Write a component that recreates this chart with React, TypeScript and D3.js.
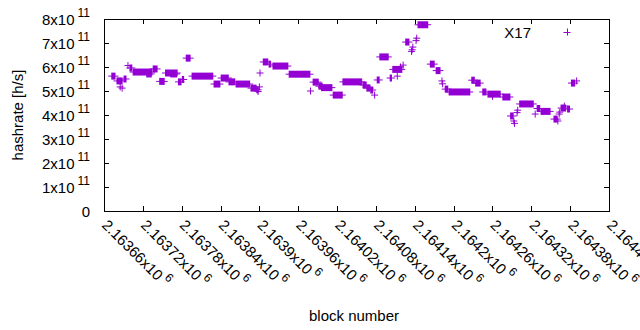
import React, { useEffect } from "react";
import * as d3 from "d3";

// Runs of blocks sharing the same hashrate (single blocks have from == to)
const blockFrom = [
  2163672, 2163680, 2163685, 2163688, 2163691, 2163697, 2163700, 2163705, 2163726, 2163736,
  2163746, 2163755, 2163763, 2163775, 2163781, 2163787, 2163796, 2163830, 2163841, 2163853,
  2163864, 2163887, 2163896, 2163898, 2163900, 2163901, 2163906, 2163915, 2163921, 2163946,
  2163979, 2163983, 2163992, 2163996, 2164014, 2164029, 2164060, 2164066, 2164072, 2164078,
  2164082, 2164086, 2164102, 2164106, 2164113, 2164118, 2164122, 2164126, 2164135, 2164136,
  2164137, 2164142, 2164143, 2164145, 2164164, 2164173, 2164182, 2164183, 2164187, 2164193,
  2164228, 2164234, 2164245, 2164253, 2164260, 2164276, 2164288, 2164293, 2164294, 2164298,
  2164299, 2164302, 2164326, 2164329, 2164335, 2164355, 2164361, 2164363, 2164364, 2164366,
  2164371, 2164376, 2164382, 2164390,
];
const blockTo = [
  2163677, 2163688, 2163685, 2163688, 2163694, 2163697, 2163703, 2163734, 2163733, 2163742,
  2163753, 2163773, 2163772, 2163779, 2163783, 2163793, 2163828, 2163839, 2163852, 2163862,
  2163885, 2163895, 2163898, 2163898, 2163900, 2163901, 2163913, 2163917, 2163944, 2163978,
  2163979, 2163991, 2163997, 2164012, 2164028, 2164058, 2164065, 2164071, 2164075, 2164078,
  2164085, 2164099, 2164104, 2164120, 2164113, 2164118, 2164122, 2164131, 2164135, 2164136,
  2164137, 2164142, 2164143, 2164160, 2164170, 2164179, 2164182, 2164183, 2164191, 2164225,
  2164232, 2164241, 2164250, 2164272, 2164260, 2164287, 2164292, 2164293, 2164294, 2164298,
  2164299, 2164323, 2164326, 2164333, 2164349, 2164360, 2164361, 2164363, 2164364, 2164373,
  2164371, 2164379, 2164387, 2164390,
];
const hashrate = [
  5.62e11, 5.42e11, 5.17e11, 5.12e11, 5.5e11, 6.06e11, 5.96e11, 5.79e11, 5.71e11, 5.92e11,
  5.4e11, 5.75e11, 5.71e11, 5.38e11, 5.48e11, 6.37e11, 5.62e11, 5.29e11, 5.54e11, 5.38e11,
  5.29e11, 5.12e11, 5.05e11, 4.98e11, 5.17e11, 5.75e11, 6.21e11, 6.12e11, 6.04e11, 5.7e11,
  5.0e11, 5.37e11, 5.2e11, 5.14e11, 4.83e11, 5.38e11, 5.25e11, 5.12e11, 5.04e11, 4.83e11,
  5.46e11, 6.42e11, 5.54e11, 5.9e11, 5.62e11, 6.0e11, 6.08e11, 7.04e11, 6.65e11, 6.72e11,
  6.83e11, 7.1e11, 7.2e11, 7.76e11, 6.12e11, 5.85e11, 5.42e11, 5.3e11, 5.08e11, 4.96e11,
  5.45e11, 5.33e11, 4.96e11, 4.87e11, 4.78e11, 4.75e11, 3.96e11, 3.75e11, 3.65e11, 4.1e11,
  4.2e11, 4.46e11, 4.04e11, 4.27e11, 4.15e11, 3.83e11, 3.75e11, 4.04e11, 4.12e11, 4.29e11,
  4.37e11, 4.25e11, 5.33e11, 5.42e11,
];

const xTicks = [
  2163660, 2163720, 2163780, 2163840, 2163900, 2163960, 2164020, 2164080, 2164140, 2164200,
  2164260, 2164320, 2164380, 2164440,
];
const xTickMantissa = [
  "2.16366", "2.16372", "2.16378", "2.16384", "2.1639", "2.16396", "2.16402", "2.16408",
  "2.16414", "2.1642", "2.16426", "2.16432", "2.16438", "2.16444",
];
const yTicks = [0, 1e11, 2e11, 3e11, 4e11, 5e11, 6e11, 7e11, 8e11];
const yTickMantissa = ["0", "1", "2", "3", "4", "5", "6", "7", "8"];
const seriesName = "X17";

const W = 640, H = 330;
const L = 104, R = 609, T = 19, B = 211;
const COLOR = "#9400d3";
const FONT = "'Liberation Sans', Arial, sans-serif";
const HALF = 3.5;

export default function App() {
  useEffect(() => {
    document.body.style.margin = "0";
  }, []);
  const x = d3.scaleLinear().domain([2163660, 2164440]).range([L, R]);
  const y = d3.scaleLinear().domain([0, 8e11]).range([B, T]);
  const tick = 5;

  return (
    <svg width={W} height={H} style={{ display: "block", background: "#fff" }} fontFamily={FONT}>
      <rect x={0} y={0} width={W} height={H} fill="#fff" />
      {/* ticks */}
      <g stroke="#000" strokeWidth={1}>
        {yTicks.map((v, i) => (
          <g key={"yt" + i}>
            <line x1={L} x2={L + tick} y1={Math.round(y(v)) + 0.5} y2={Math.round(y(v)) + 0.5} />
            <line x1={R - tick} x2={R} y1={Math.round(y(v)) + 0.5} y2={Math.round(y(v)) + 0.5} />
          </g>
        ))}
        {xTicks.map((v, i) => (
          <g key={"xt" + i}>
            <line x1={Math.round(x(v)) + 0.5} x2={Math.round(x(v)) + 0.5} y1={B} y2={B - tick} />
            <line x1={Math.round(x(v)) + 0.5} x2={Math.round(x(v)) + 0.5} y1={T} y2={T + tick} />
          </g>
        ))}
      </g>
      {/* y tick labels */}
      {yTicks.map((v, i) =>
        v === 0 ? (
          <text key={"yl" + i} x={90} y={y(v)} textAnchor="end" dominantBaseline="central" fontSize={15} fill="#000">
            0
          </text>
        ) : (
          <text key={"yl" + i} x={90} y={y(v)} textAnchor="end" dominantBaseline="central" fontSize={15} fill="#000">
            {yTickMantissa[i] + "x10"}
            <tspan dx={3} dy={-6} fontSize={12}>11</tspan>
          </text>
        )
      )}
      {/* x tick labels */}
      {xTicks.map((v, i) => (
        <text
          key={"xl" + i}
          transform={`translate(${x(v) + 1},${B + 11}) rotate(45)`}
          dominantBaseline="central"
          fontSize={15}
          fill="#000"
        >
          {xTickMantissa[i] + "x10"}
          <tspan dx={3} dy={-6} fontSize={12}>6</tspan>
        </text>
      ))}
      {/* axis titles */}
      <text transform={`translate(17,115) rotate(-90)`} textAnchor="middle" dominantBaseline="central" fontSize={15} fill="#000">
        hashrate [h/s]
      </text>
      <text x={354} y={315} textAnchor="middle" dominantBaseline="central" fontSize={15} fill="#000">
        block number
      </text>
      {/* data */}
      <g>
        {hashrate.map((v, i) => {
          const x0 = x(blockFrom[i]);
          const x1 = x(blockTo[i]);
          const yy = y(v);
          return (
            <g key={"p" + i}>
              <rect x={x0 - 0.5} y={yy - HALF} width={x1 - x0 + 1} height={2 * HALF} fill={COLOR} />
              <line x1={x0 - HALF} x2={x1 + HALF} y1={yy} y2={yy} stroke={COLOR} strokeWidth={1} />
            </g>
          );
        })}
      </g>
      {/* legend */}
      <text x={531} y={32} textAnchor="end" dominantBaseline="central" fontSize={15} fill="#000">
        {seriesName}
      </text>
      <g stroke={COLOR} strokeWidth={1}>
        <line x1={567 - HALF} x2={567 + HALF} y1={32.5} y2={32.5} />
        <line x1={567.5} x2={567.5} y1={32 - HALF} y2={32 + HALF} />
      </g>
      {/* border */}
      <rect x={L + 0.5} y={T + 0.5} width={R - L} height={B - T} fill="none" stroke="#000" strokeWidth={1} />
    </svg>
  );
}
